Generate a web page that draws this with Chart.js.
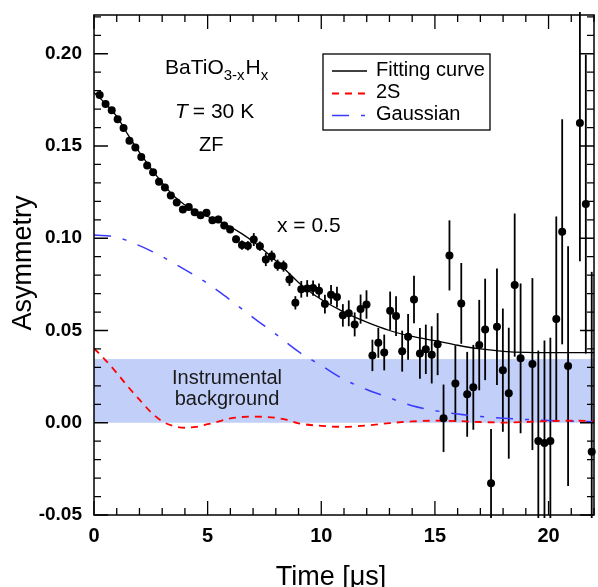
<!DOCTYPE html>
<html>
<head>
<meta charset="utf-8">
<script src="https://cdn.jsdelivr.net/npm/chart.js@4.4.0/dist/chart.umd.min.js"></script>
<style>
body { margin: 0; background: #fff; }
canvas { display: block; }
</style>
</head>
<body>
<canvas id="chart" width="598" height="587"></canvas>
<script>
// muSR time bins [us]
const times = [
  0.25, 0.51, 0.78, 1.04, 1.30, 1.56, 1.82, 2.08, 2.34, 2.60,
  2.86, 3.12, 3.38, 3.64, 3.91, 4.17, 4.43, 4.69, 4.95, 5.21,
  5.47, 5.73, 5.99, 6.25, 6.51, 6.77, 7.03, 7.30, 7.56, 7.82,
  8.08, 8.34, 8.60, 8.86, 9.12, 9.38, 9.64, 9.90, 10.16, 10.43,
  10.69, 10.95, 11.21, 11.47, 11.73, 11.99, 12.25, 12.51, 12.77, 13.03,
  13.29, 13.56, 13.82, 14.08, 14.34, 14.60, 14.86, 15.12, 15.38, 15.64,
  15.90, 16.16, 16.42, 16.69, 16.95, 17.21, 17.47, 17.73, 17.99, 18.25,
  18.51, 18.77, 19.03, 19.29, 19.55, 19.82, 20.08, 20.34, 20.60, 20.86,
  21.12, 21.38, 21.64, 21.90
];

// measured asymmetry (null = off the plot)
const asym = [
  0.1776, 0.1728, 0.1694, 0.1645, 0.1598, 0.1528, 0.1492, 0.1441, 0.1394, 0.1358,
  0.1306, 0.1275, 0.1232, 0.1194, 0.1156, 0.1170, 0.1141, 0.1125, 0.1138, 0.1098,
  0.1102, 0.1069, 0.1048, 0.0995, 0.0963, 0.0959, 0.0993, 0.0957, 0.0885, 0.0903,
  0.0854, 0.0849, 0.0777, 0.0650, 0.0723, 0.0728, 0.0730, 0.0716, 0.0643, 0.0694,
  0.0681, 0.0582, 0.0593, 0.0533, 0.0616, 0.0641, 0.0365, 0.0433, 0.0381, 0.0607,
  0.0578, 0.0388, 0.0466, 0.0668, 0.0376, 0.0398, 0.0368, 0.0426, 0.0024, 0.0907,
  0.0213, 0.0647, 0.0154, 0.0192, 0.0421, 0.0506, -0.0328, 0.0520, 0.0285, 0.0160,
  0.0746, 0.0349, null, 0.0318, -0.0099, -0.0110, -0.0099, 0.0562, 0.1035, 0.0307,
  null, 0.1625, 0.1185, -0.0157
];

// error bar half-lengths
const asymErr = [
  0.0012, 0.0012, 0.0012, 0.0012, 0.0012, 0.0012, 0.0012, 0.0012, 0.0012, 0.0012,
  0.0015, 0.0015, 0.0015, 0.0015, 0.0015, 0.0015, 0.0015, 0.0015, 0.0020, 0.0020,
  0.0020, 0.0020, 0.0020, 0.0020, 0.0025, 0.0025, 0.0035, 0.0025, 0.0036, 0.0030,
  0.0030, 0.0030, 0.0035, 0.0036, 0.0045, 0.0045, 0.0041, 0.0039, 0.0051, 0.0052,
  0.0056, 0.0061, 0.0070, 0.0065, 0.0079, 0.0077, 0.0085, 0.0081, 0.0097, 0.0104,
  0.0108, 0.0111, 0.0124, 0.0129, 0.0138, 0.0134, 0.0155, 0.0168, 0.0183, 0.0190,
  0.0207, 0.0219, 0.0230, 0.0230, 0.0245, 0.0275, 0.0294, 0.0316, 0.0334, 0.0355,
  0.0388, 0.0406, null, 0.0466, 0.0490, 0.0556, 0.0560, 0.0556, 0.0610, 0.0650,
  null, 0.0750, 0.0810, 0.0975
];

// fitting curve
const fitT = [0, 0.5, 1, 1.5, 2, 2.5, 3, 3.5, 4, 4.5, 5, 5.5, 6, 6.5, 7, 7.5, 8, 8.5, 9, 9.5, 10, 11, 12, 13, 14, 15, 16, 17, 18, 19, 20, 21, 22];
const fitY = [0.1790, 0.1730, 0.1660, 0.1560, 0.1465, 0.1380, 0.1300, 0.1230, 0.1180, 0.1145, 0.1118, 0.1092, 0.1062, 0.1025, 0.0982, 0.0932, 0.0878, 0.0820, 0.0760, 0.0710, 0.0668, 0.0600, 0.0545, 0.0500, 0.0468, 0.0445, 0.0420, 0.0400, 0.0387, 0.0381, 0.0380, 0.0380, 0.0380];

// 2S component
const s2T = [0, 0.5, 1, 1.5, 2, 2.5, 3, 3.5, 4, 4.5, 5, 5.5, 6, 7, 8, 8.5, 9, 10, 11, 12, 13, 14, 15, 16, 17, 18, 19, 20, 21, 22];
const s2Y = [0.0403, 0.0340, 0.0270, 0.0195, 0.0125, 0.0058, 0.0008, -0.0018, -0.0027, -0.0022, -0.0008, 0.0007, 0.0024, 0.0033, 0.0027, 0.0015, -0.0003, -0.0017, -0.0022, -0.0015, -0.0002, 0.0007, 0.0011, 0.0009, 0.0004, 0.0001, 0.0004, 0.0009, 0.0011, 0.0010];

// Gaussian component
const gaussT = [0, 1, 2, 3, 4, 5, 6, 7, 8, 9, 10, 11, 12, 13, 14, 15, 16, 17, 18, 19, 20, 22];
const gaussY = [0.1017, 0.1005, 0.0960, 0.0900, 0.0830, 0.0755, 0.0665, 0.0570, 0.0480, 0.0385, 0.0310, 0.0235, 0.0180, 0.0135, 0.0092, 0.0066, 0.0047, 0.0034, 0.0025, 0.0018, 0.0012, 0.0005];

// instrumental background band (lower, upper)
const bgBand = [0, 0.0345];

const xTicks = [0, 5, 10, 15, 20];
const yTicks = [-0.05, 0, 0.05, 0.10, 0.15, 0.20];

const FONT = '"Liberation Sans", Arial, sans-serif';

const points = [];
times.forEach((t, i) => {
  if (asym[i] !== null) points.push({ x: t, y: asym[i], err: asymErr[i] });
});
const toXY = (xs, ys) => xs.map((x, i) => ({ x: x, y: ys[i] }));

// band + error bars, under the datasets
const backgroundPlugin = {
  id: 'backgroundStuff',
  beforeDatasetsDraw(chart) {
    const { ctx, chartArea: a, scales: { x, y } } = chart;
    ctx.save();
    const yTop = y.getPixelForValue(bgBand[1]);
    const yBot = y.getPixelForValue(bgBand[0]);
    ctx.fillStyle = '#c1cff9';
    ctx.fillRect(a.left, yTop, a.right - a.left, yBot - yTop);

    ctx.fillStyle = '#1a1a1a';
    ctx.font = '20px ' + FONT;
    ctx.textAlign = 'center';
    ctx.textBaseline = 'alphabetic';
    ctx.fillText('Instrumental', 227, 384);
    ctx.fillText('background', 227, 405);

    // error bars
    ctx.strokeStyle = '#000';
    ctx.lineWidth = 1.8;
    points.forEach(p => {
      const px = x.getPixelForValue(p.x);
      const y1 = Math.max(y.getPixelForValue(p.y + p.err), a.top - 3);
      const y2 = Math.min(y.getPixelForValue(p.y - p.err), a.bottom + 3);
      ctx.beginPath();
      ctx.moveTo(px, y1);
      ctx.lineTo(px, y2);
      ctx.stroke();
    });
    ctx.restore();
  }
};

// frame, inward ticks, labels, legend
const framePlugin = {
  id: 'frameStuff',
  afterDraw(chart) {
    const { ctx, chartArea: a, scales: { x, y } } = chart;
    ctx.save();
    ctx.strokeStyle = '#000';
    ctx.lineWidth = 1.5;
    ctx.strokeRect(a.left, a.top, a.right - a.left, a.bottom - a.top);

    ctx.lineWidth = 1.3;
    ctx.beginPath();
    for (let v = 0; v <= 22; v++) {
      const px = x.getPixelForValue(v);
      const len = xTicks.includes(v) ? 14 : 7;
      ctx.moveTo(px, a.bottom); ctx.lineTo(px, a.bottom - len);
      ctx.moveTo(px, a.top); ctx.lineTo(px, a.top + len);
    }
    for (let k = -5; k <= 22; k++) {
      const py = y.getPixelForValue(k / 100);
      const len = k % 5 === 0 ? 14 : 7;
      ctx.moveTo(a.left, py); ctx.lineTo(a.left + len, py);
      ctx.moveTo(a.right, py); ctx.lineTo(a.right - len, py);
    }
    ctx.stroke();

    // axis titles
    ctx.fillStyle = '#000';
    ctx.font = '27px ' + FONT;
    ctx.textAlign = 'center';
    ctx.textBaseline = 'alphabetic';
    ctx.fillText('Time [\u03bcs]', 331, 585);
    ctx.save();
    ctx.translate(31, 263);
    ctx.rotate(-Math.PI / 2);
    ctx.fillText('Asymmetry', 0, 0);
    ctx.restore();

    // sample annotations
    ctx.textAlign = 'left';
    ctx.font = '21px ' + FONT;
    let cx = 165;
    ctx.fillText('BaTiO', cx, 74); cx += ctx.measureText('BaTiO').width;
    ctx.font = '15px ' + FONT;
    ctx.fillText('3-x', cx, 80); cx += ctx.measureText('3-x').width + 1;
    ctx.font = '21px ' + FONT;
    ctx.fillText('H', cx, 74); cx += ctx.measureText('H').width;
    ctx.font = '15px ' + FONT;
    ctx.fillText('x', cx, 80);

    ctx.font = 'italic 21px ' + FONT;
    ctx.fillText('T', 175, 118);
    ctx.font = '21px ' + FONT;
    ctx.fillText(' = 30 K', 175 + 12, 118);
    ctx.font = '20px ' + FONT;
    ctx.fillText('ZF', 199, 151);
    ctx.font = '21px ' + FONT;
    ctx.fillText('x = 0.5', 277, 232);

    // legend
    ctx.fillStyle = '#fff';
    ctx.fillRect(323, 54, 167, 76);
    ctx.lineWidth = 1.3;
    ctx.strokeRect(323, 54, 167, 76);
    const rows = [1, 2, 3];
    const rowY = [71, 93.5, 115.5];
    rows.forEach((di, r) => {
      const ds = chart.data.datasets[di];
      ctx.save();
      ctx.strokeStyle = ds.borderColor;
      ctx.lineWidth = ds.borderWidth;
      ctx.setLineDash(ds.borderDash || []);
      ctx.beginPath();
      ctx.moveTo(332, rowY[r]);
      ctx.lineTo(367, rowY[r]);
      ctx.stroke();
      ctx.restore();
      ctx.fillStyle = '#000';
      ctx.font = '20px ' + FONT;
      ctx.textBaseline = 'middle';
      ctx.fillText(ds.label, 376, rowY[r] - 1);
    });
    ctx.restore();
  }
};

new Chart(document.getElementById('chart'), {
  type: 'scatter',
  data: {
    datasets: [
      {
        label: 'x = 0.5',
        data: points,
        pointRadius: 4,
        pointHoverRadius: 4,
        backgroundColor: '#000',
        borderWidth: 0,
        showLine: false,
        clip: false,
        order: 0
      },
      {
        label: 'Fitting curve',
        data: toXY(fitT, fitY),
        showLine: true,
        borderColor: '#000',
        borderWidth: 1.3,
        pointRadius: 0,
        cubicInterpolationMode: 'monotone',
        order: 1
      },
      {
        label: '2S',
        data: toXY(s2T, s2Y),
        showLine: true,
        borderColor: '#ff0000',
        borderWidth: 1.8,
        borderDash: [7, 6],
        pointRadius: 0,
        cubicInterpolationMode: 'monotone',
        order: 2
      },
      {
        label: 'Gaussian',
        data: toXY(gaussT, gaussY),
        showLine: true,
        borderColor: '#3a3aff',
        borderWidth: 1.5,
        borderDash: [17, 12, 4, 12],
        pointRadius: 0,
        cubicInterpolationMode: 'monotone',
        order: 3
      }
    ]
  },
  options: {
    responsive: false,
    animation: false,
    events: [],
    layout: { padding: { top: 15, right: 1, left: 0, bottom: 0 } },
    plugins: { legend: { display: false }, tooltip: { enabled: false } },
    scales: {
      x: {
        type: 'linear',
        min: 0,
        max: 22,
        afterFit: s => { s.height = 72; s.paddingLeft = 0; s.paddingRight = 0; },
        afterBuildTicks: s => { s.ticks = xTicks.map(v => ({ value: v })); },
        grid: { display: false, drawTicks: false },
        border: { display: false },
        ticks: {
          padding: 9,
          maxRotation: 0,
          color: '#000',
          font: { family: FONT, size: 20, weight: 'bold' },
          callback: v => String(v)
        }
      },
      y: {
        type: 'linear',
        min: -0.05,
        max: 0.221,
        afterFit: s => { s.width = 94; s.paddingTop = 0; s.paddingBottom = 0; },
        afterBuildTicks: s => { s.ticks = yTicks.map(v => ({ value: v })); },
        grid: { display: false, drawTicks: false },
        border: { display: false },
        ticks: {
          padding: 12,
          color: '#000',
          font: { family: FONT, size: 19, weight: 'bold' },
          callback: v => v.toFixed(2)
        }
      }
    }
  },
  plugins: [backgroundPlugin, framePlugin]
});
</script>
</body>
</html>
